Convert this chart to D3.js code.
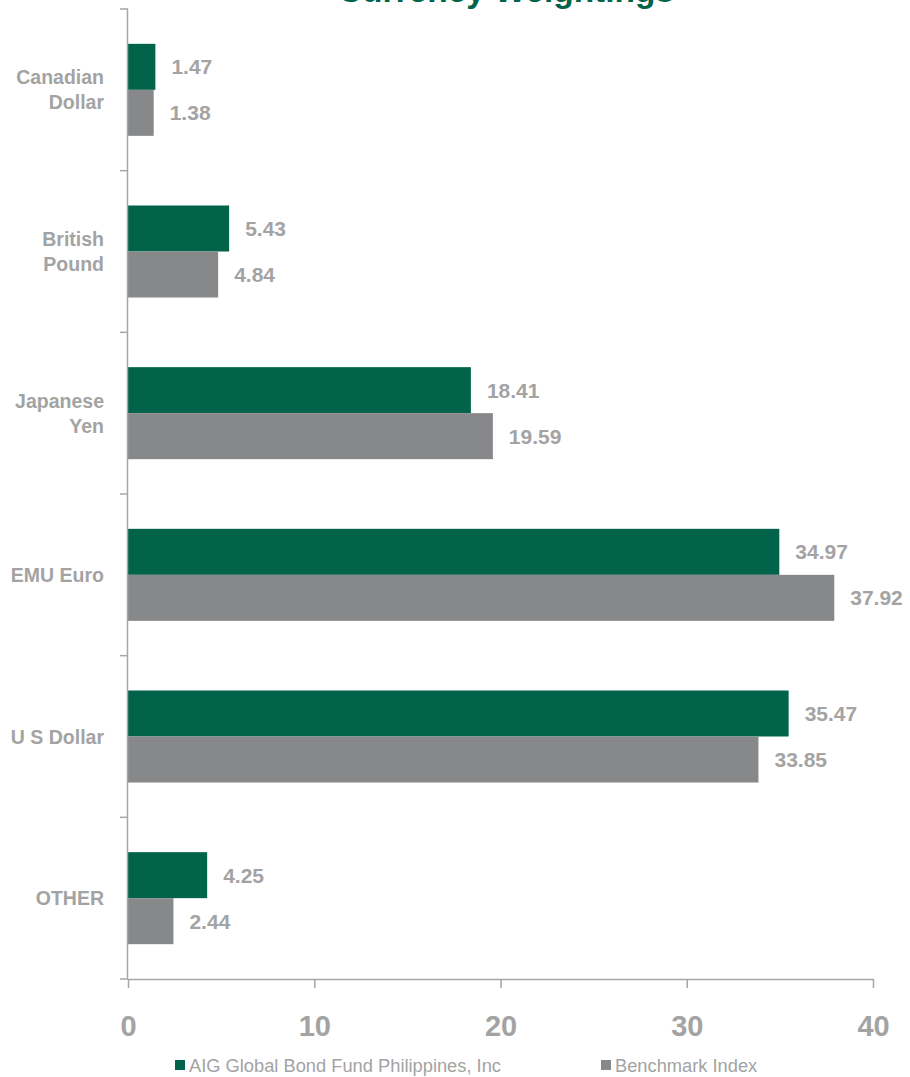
<!DOCTYPE html>
<html>
<head>
<meta charset="utf-8">
<script src="https://cdn.jsdelivr.net/npm/d3@7"></script>
<style>
  body { margin: 0; background: #fff; }
  svg { display: block; font-family: "Liberation Sans", Arial, sans-serif; }
</style>
</head>
<body>
<svg id="chart"></svg>
<script>
const categories = ["Canadian Dollar", "British Pound", "Japanese Yen", "EMU Euro", "U S Dollar", "OTHER"];
const fundValues = [1.47, 5.43, 18.41, 34.97, 35.47, 4.25];
const benchmarkValues = [1.38, 4.84, 19.59, 37.92, 33.85, 2.44];
const seriesNames = ["AIG Global Bond Fund Philippines, Inc", "Benchmark Index"];
const xTicks = [0, 10, 20, 30, 40];

const width = 910;
const height = 1077;
const margin = { top: 9, left: 128, right: 37, bottom: 98 };
const green = "#00634a";
const grey = "#87888a";
const axisGrey = "#a6a6a6";
const textGrey = "#a3a3a3";

const svg = d3.select("#chart")
    .attr("width", width)
    .attr("height", height);

const x = d3.scaleLinear()
    .domain([0, 40])
    .range([margin.left, width - margin.right]);

const y = d3.scaleBand()
    .domain(categories)
    .range([margin.top, height - margin.bottom]);

const ySeries = d3.scaleBand()
    .domain(seriesNames)
    .range([0, y.bandwidth()])
    .paddingOuter(0.757);

const color = d3.scaleOrdinal(seriesNames, [green, grey]);

const rows = categories.map((c, i) => ({
    category: c,
    values: [
        { series: seriesNames[0], value: fundValues[i] },
        { series: seriesNames[1], value: benchmarkValues[i] }
    ]
}));

// title (partly cut off at the top, as in the original)
svg.append("text")
    .attr("x", 506)
    .attr("y", 2)
    .attr("text-anchor", "middle")
    .attr("fill", green)
    .attr("font-weight", "bold")
    .attr("font-size", 33.5)
    .text("Currency Weightings");

const group = svg.selectAll("g.row")
    .data(rows)
    .enter().append("g")
    .attr("class", "row")
    .attr("transform", d => `translate(0,${y(d.category)})`);

group.selectAll("rect")
    .data(d => d.values)
    .enter().append("rect")
    .attr("x", x(0))
    .attr("y", d => ySeries(d.series))
    .attr("width", d => x(d.value) - x(0))
    .attr("height", ySeries.bandwidth())
    .attr("fill", d => color(d.series));

group.selectAll("text.value")
    .data(d => d.values)
    .enter().append("text")
    .attr("class", "value")
    .attr("x", d => x(d.value) + 16)
    .attr("y", d => ySeries(d.series) + ySeries.bandwidth() / 2)
    .attr("dy", "0.36em")
    .attr("fill", textGrey)
    .attr("font-weight", "bold")
    .attr("font-size", 21)
    .text(d => d.value.toFixed(2));

// y axis
const yAxis = svg.append("g")
    .attr("transform", `translate(${x(0)},0)`)
    .call(d3.axisLeft(y).tickSize(0).tickFormat(""));
yAxis.select(".domain").remove();
yAxis.append("line")
    .attr("x1", -0.5).attr("x2", -0.5)
    .attr("y1", margin.top).attr("y2", height - margin.bottom)
    .attr("stroke", axisGrey).attr("stroke-width", 1.5);
yAxis.selectAll(".sep")
    .data(categories.map(c => y(c)).concat([height - margin.bottom]))
    .enter().append("line")
    .attr("class", "sep")
    .attr("x1", -8).attr("x2", 0)
    .attr("y1", d => d).attr("y2", d => d)
    .attr("stroke", axisGrey).attr("stroke-width", 1.5);

// category labels, wrapped onto two lines
svg.selectAll("text.cat")
    .data(categories)
    .enter().append("text")
    .attr("class", "cat")
    .attr("text-anchor", "end")
    .attr("fill", textGrey)
    .attr("font-weight", "bold")
    .attr("font-size", 19.5)
    .each(function(d) {
        const lines = (d === "EMU Euro" || d === "U S Dollar") ? [d] : d.split(" ");
        const cy = y(d) + y.bandwidth() / 2;
        d3.select(this).selectAll("tspan")
            .data(lines)
            .enter().append("tspan")
            .attr("x", 104)
            .attr("y", (l, i) => cy + (i - (lines.length - 1) / 2) * 25)
            .attr("dy", "0.36em")
            .text(l => l);
    });

// x axis
const xAxis = svg.append("g")
    .attr("transform", `translate(0,${height - margin.bottom})`)
    .call(d3.axisBottom(x).tickValues(xTicks).tickSize(9).tickPadding(27).tickSizeOuter(0));
xAxis.select(".domain").attr("stroke", axisGrey).attr("stroke-width", 1.5);
xAxis.selectAll(".tick line").attr("stroke", axisGrey).attr("stroke-width", 1.5);
xAxis.selectAll(".tick text")
    .attr("fill", textGrey)
    .attr("font-size", 29)
    .attr("font-weight", "bold")
    .attr("font-family", "Liberation Sans, Arial, sans-serif");

// legend
const legendPos = [175, 601];
const legend = svg.selectAll("g.legend")
    .data(seriesNames)
    .enter().append("g")
    .attr("class", "legend")
    .attr("transform", (d, i) => `translate(${legendPos[i]},1060)`);

legend.append("rect")
    .attr("width", 10)
    .attr("height", 10)
    .attr("fill", d => color(d));

legend.append("text")
    .attr("x", 14)
    .attr("y", 5)
    .attr("dy", "0.36em")
    .attr("fill", textGrey)
    .attr("font-size", 18.3)
    .text(d => d);
</script>
</body>
</html>
